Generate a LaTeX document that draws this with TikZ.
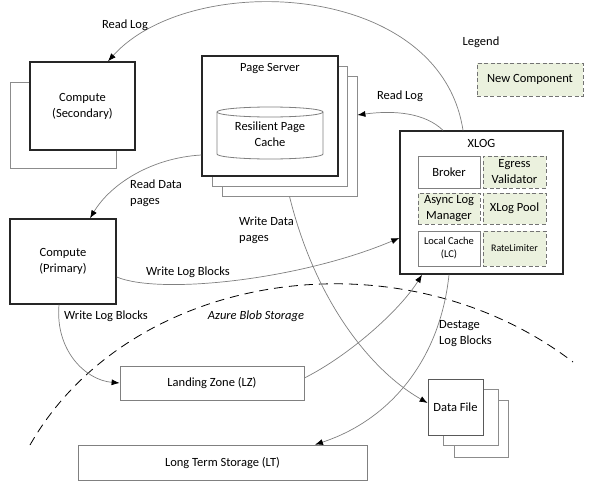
\documentclass[tikz,border=0pt]{standalone}
\usepackage{fontspec}
\setmainfont{Carlito}
\usetikzlibrary{arrows.meta}
\definecolor{newgreen}{HTML}{EBF1DE}
\begin{document}
\begin{tikzpicture}[x=1pt,y=-1pt,
  every node/.style={font=\fontsize{12.5}{16}\selectfont},
  mainbox/.style={draw=black!85, line width=1.4pt, fill=white, inner sep=0pt, align=center},
  shadowbox/.style={draw=black!45, line width=0.8pt, fill=white, inner sep=0pt},
  plainbox/.style={draw=black!50, line width=0.8pt, fill=white, inner sep=0pt, align=center},
  newbox/.style={draw=black!55, dash pattern=on 4pt off 2.5pt, line width=1pt, fill=newgreen, inner sep=0pt, align=center},
  lbl/.style={inner sep=0pt, align=left},
  conn/.style={draw=black!50, line width=0.7pt, -{Latex[length=8pt,width=6pt,black]}},
  small/.style={font=\fontsize{10.5}{13}\selectfont}
]
\useasboundingbox (0,0) rectangle (589,490);
\fill[white] (0,0) rectangle (589,490);

% Compute (Secondary)
\node[shadowbox, minimum width=106pt, minimum height=86pt] (secsh) at (63,125) {};
\node[mainbox, minimum width=105pt, minimum height=88pt] (sec) at (82.5,106) {Compute\\(Secondary)};

% Page Server
\node[shadowbox, minimum width=135pt, minimum height=120pt] (ps2) at (289.5,136) {};
\node[shadowbox, minimum width=135pt, minimum height=120pt] (ps1) at (279.5,126) {};
\node[mainbox, minimum width=136pt, minimum height=120pt] (ps) at (270,116) {};
\node[lbl] (pstitle) at (270,69) {Page Server};
\draw[draw=black!50, line width=0.8pt, fill=white] (217,112) -- (217,154)
  arc[start angle=180, end angle=360, x radius=53pt, y radius=5pt] -- (323,112)
  arc[start angle=0, end angle=180, x radius=53pt, y radius=5pt] -- cycle;
\draw[draw=black!50, line width=0.8pt] (217,112)
  arc[start angle=180, end angle=360, x radius=53pt, y radius=5pt];
\node[lbl, align=center] (cache) at (270,134) {Resilient Page\\Cache};

% XLOG
\node[mainbox, minimum width=163pt, minimum height=143pt] (xlog) at (481.5,202.5) {};
\node[lbl] (xlogtitle) at (481.5,143) {XLOG};
\node[plainbox, minimum width=62pt, minimum height=32pt] (broker) at (449,172) {Broker};
\node[newbox, minimum width=63pt, minimum height=32pt] (egress) at (514.5,172) {Egress\\Validator};
\node[newbox, minimum width=62pt, minimum height=31pt] (async) at (449,208.5) {Async Log\\Manager};
\node[newbox, minimum width=63pt, minimum height=31pt] (pool) at (514.5,208.5) {XLog Pool};
\node[plainbox, small, minimum width=62pt, minimum height=35pt] (lc) at (449,248.5) {Local Cache\\(LC)};
\node[newbox, font=\fontsize{10}{12}\selectfont, minimum width=63pt, minimum height=35pt] (rate) at (514.5,248.5) {RateLimiter};

% Legend
\node[lbl] (legend) at (481,42) {Legend};
\node[newbox, minimum width=106pt, minimum height=33pt] (newc) at (530,79.5) {New Component};

% Compute (Primary)
\node[mainbox, minimum width=106pt, minimum height=85pt] (pri) at (63,261.5) {Compute\\(Primary)};

% Landing zone and long term storage
\node[plainbox, minimum width=184pt, minimum height=34pt] (lz) at (212,383) {Landing Zone (LZ)};
\node[plainbox, minimum width=289pt, minimum height=35pt] (lt) at (222.5,462.5) {Long Term Storage (LT)};

% Data file
\node[shadowbox, minimum width=54pt, minimum height=57pt] (df2) at (481,428.5) {};
\node[shadowbox, minimum width=55pt, minimum height=56pt] (df1) at (470.5,417) {};
\node[plainbox, draw=black!65, minimum width=55pt, minimum height=56pt] (df) at (455.5,407) {Data File};

% Azure blob storage boundary
\draw[black, line width=0.8pt, dash pattern=on 9pt off 6pt] (30,445) .. controls (130,270) and (400,230) .. (573,362);
\node[lbl, font=\fontsize{12.5}{16}\itshape] (azure) at (256,316) {Azure Blob Storage};

% Connectors
\draw[conn] ([xshift=-18.5pt]xlog.north) .. controls (440,-20) and (190,-30) .. ([xshift=25.5pt]sec.north);
\node[lbl] (rl1) at (125,25) {Read Log};

\draw[conn] ([xshift=-38.5pt]xlog.north) .. controls (425,113) and (395,110) .. ([yshift=21pt]ps2.east);
\node[lbl] (rl2) at (400,96) {Read Log};

\draw[conn] ([yshift=-39pt]ps.west) .. controls (150,158) and (110,185) .. ([xshift=27pt]pri.north);
\node[lbl, anchor=west] (rdp) at (130,193) {Read Data\\pages};

\draw[conn] (ps2.south) .. controls (315,300) and (370,370) .. ([yshift=4pt]df.west);
\node[lbl, anchor=west] (wdp) at (239,230) {Write Data\\pages};

\draw[conn] ([yshift=-15.5pt]pri.east) .. controls (160,295) and (300,280) .. ([yshift=-35.5pt]xlog.west);
\node[lbl] (wlb1) at (188,272) {Write Log Blocks};

\draw[conn] ([xshift=-4pt]pri.south) .. controls (55,350) and (85,380) .. (lz.west);
\node[lbl] (wlb2) at (106,316) {Write Log Blocks};

\draw[conn] ([yshift=5pt]lz.east) .. controls (350,355) and (400,310) .. ([xshift=-59.5pt]xlog.south);

\draw[conn] ([xshift=-32.5pt]xlog.south) .. controls (440,360) and (390,420) .. ([xshift=92.5pt]lt.north);
\node[lbl, anchor=west] (dlb) at (439,334) {Destage\\Log Blocks};
\end{tikzpicture}
\end{document}
